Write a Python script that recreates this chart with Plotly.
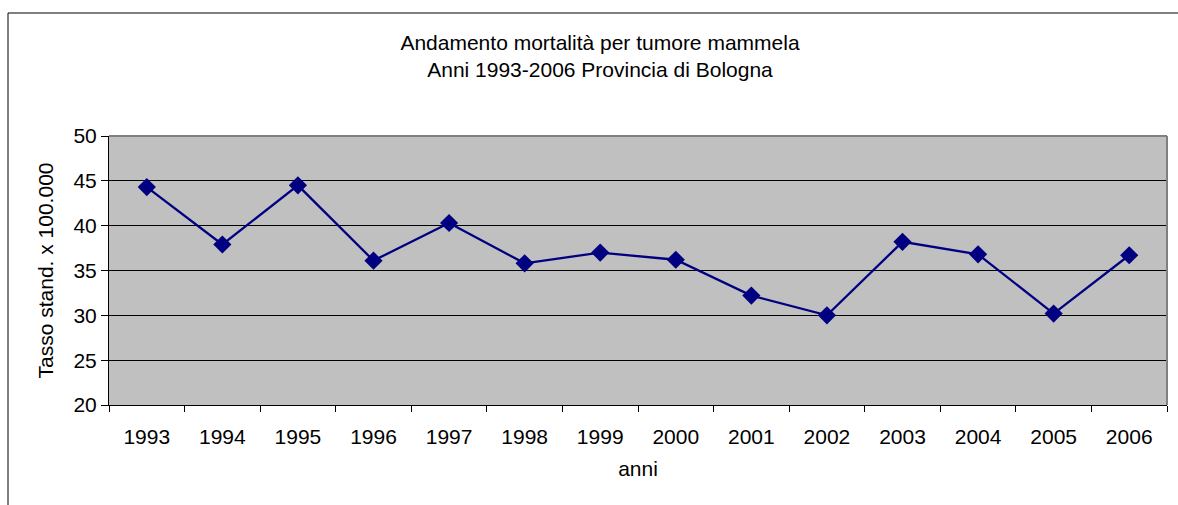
import plotly.graph_objects as go

anni = ["1993", "1994", "1995", "1996", "1997", "1998", "1999",
        "2000", "2001", "2002", "2003", "2004", "2005", "2006"]
tasso = [44.3, 37.9, 44.5, 36.1, 40.3, 35.8, 37.0,
         36.2, 32.2, 30.0, 38.2, 36.8, 30.2, 36.7]
y_ticks = [20, 25, 30, 35, 40, 45, 50]

W, H = 1178, 505
L, R, T, B = 109, 11, 136, 100
pw, ph = W - L - R, H - T - B

def px_x(p):
    return (p - L) / pw

def px_y(p):
    return (H - B - p) / ph

font = "Liberation Sans, Arial, sans-serif"

fig = go.Figure()
fig.add_trace(go.Scatter(
    x=anni, y=tasso, mode="lines+markers",
    line=dict(color="#000080", width=2.3),
    marker=dict(symbol="diamond", size=14, color="#000080"),
    showlegend=False,
))

fig.update_layout(
    width=W, height=H,
    margin=dict(l=L, r=R, t=T, b=B),
    paper_bgcolor="white",
    plot_bgcolor="#C0C0C0",
    font=dict(family=font, size=21, color="black"),
    title=dict(
        text="Andamento mortalità per tumore mammela<br>Anni 1993-2006 Provincia di Bologna",
        x=px_x(600), xref="paper", xanchor="center",
        y=1 - 50 / H, yanchor="top",
        font=dict(size=21),
    ),
    xaxis=dict(
        type="category", tickson="boundaries",
        range=[-0.5, len(anni) - 0.5],
        ticks="outside", ticklen=6, tickcolor="black",
        showline=True, linecolor="black", linewidth=1,
        showgrid=False, tickfont=dict(size=21),
        ticklabelstandoff=13,
        title=dict(text="anni", font=dict(size=21), standoff=14),
        mirror=False,
    ),
    yaxis=dict(
        range=[20, 50], tickvals=y_ticks,
        ticks="outside", ticklen=7, tickcolor="black",
        showline=True, linecolor="black", linewidth=1,
        showgrid=True, gridcolor="black", gridwidth=1,
        zeroline=False, tickfont=dict(size=21),
        title=dict(text="Tasso stand. x 100.000", font=dict(size=21), standoff=14),
    ),
    shapes=[
        dict(type="line", xref="paper", yref="paper", x0=0, x1=1, y0=1, y1=1,
             line=dict(color="#808080", width=2)),
        dict(type="line", xref="paper", yref="paper", x0=1, x1=1, y0=0, y1=1,
             line=dict(color="#808080", width=2)),
        dict(type="line", xref="paper", yref="paper",
             x0=px_x(8), x1=px_x(W + 5), y0=px_y(13), y1=px_y(13),
             line=dict(color="black", width=1)),
        dict(type="line", xref="paper", yref="paper",
             x0=px_x(8), x1=px_x(8), y0=px_y(13), y1=px_y(H + 5),
             line=dict(color="black", width=1)),
    ],
)

fig.write_html("out.html", config={"displayModeBar": False},
               post_script="document.body.style.margin='0';document.body.style.overflow='hidden';")
